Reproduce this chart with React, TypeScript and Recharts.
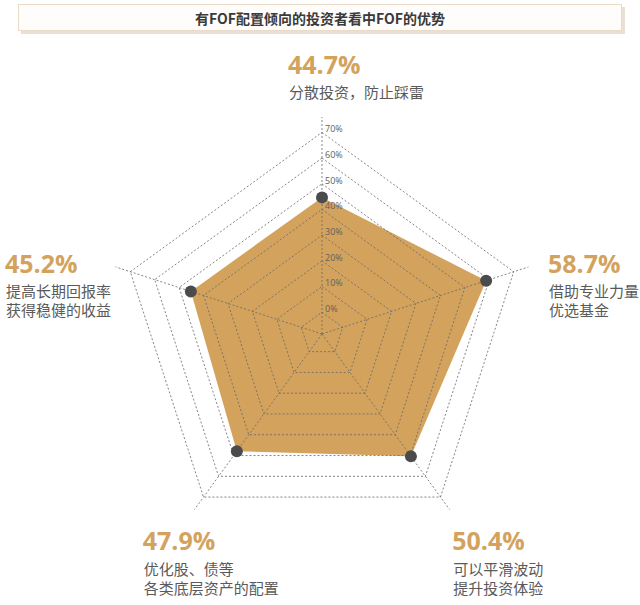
import React from 'react';
import { RadarChart, Radar, PolarGrid, PolarAngleAxis, PolarRadiusAxis } from 'recharts';

const title = '有FOF配置倾向的投资者看中FOF的优势';
const categories = ['分散投资', '借助专业力量', '可以平滑波动', '优化股、债等', '提高长期回报率'];
const values = [44.7, 58.7, 50.4, 47.9, 45.2];
const pctLabels = ['44.7%', '58.7%', '50.4%', '47.9%', '45.2%'];
const descLine1 = ['分散投资，防止踩雷', '借助专业力量', '可以平滑波动', '优化股、债等', '提高长期回报率'];
const descLine2 = ['', '优选基金', '提升投资体验', '各类底层资产的配置', '获得稳健的收益'];
const radiusTicks = [0, 10, 20, 30, 40, 50, 60, 70];
const radiusTickLabels = ['0%', '10%', '20%', '30%', '40%', '50%', '60%', '70%'];
const radiusDomain = [-8.5, 75.8];

const data = categories.map((name, i) => ({ name, value: values[i] }));

const W = 640;
const H = 605;
const CX = 322;
const CY = 334;
const OUTER = 217;

const GOLD = '#D3A35E';
const FONT = "'Open Sans', 'Noto Sans CJK SC', sans-serif";
const CJK = "'Noto Sans CJK SC', 'Open Sans', sans-serif";

// label layout offsets relative to library tick point
const labelOffsets = [
  { dx: -34, dy: -35, lineDy: [-11, 8] },
  { dx: 12, dy: 9, lineDy: [33, 52] },
  { dx: -2, dy: 34, lineDy: [59, 78] },
  { dx: -47, dy: 34, lineDy: [59, 78] },
  { dx: -103, dy: 9, lineDy: [33, 52] },
];

const AngleTick = (props: any) => {
  const { x, y, payload } = props;
  const idx = payload?.index ?? props.index ?? 0;
  const o = labelOffsets[idx];
  return (
    <g>
      <text x={x + o.dx} y={y + o.dy} fill={GOLD} fontFamily={FONT} fontWeight={700} fontSize={25} textAnchor="start">
        {pctLabels[idx]}
      </text>
      <text x={x + o.dx + 1} y={y + o.lineDy[0]} fill="#5a5a5a" fontFamily={CJK} fontSize={15} textAnchor="start">
        {descLine1[idx]}
      </text>
      {descLine2[idx] ? (
        <text x={x + o.dx + 1} y={y + o.lineDy[1]} fill="#5a5a5a" fontFamily={CJK} fontSize={15} textAnchor="start">
          {descLine2[idx]}
        </text>
      ) : null}
    </g>
  );
};

const RadiusTick = (props: any) => {
  const { x, y, payload, index } = props;
  const i = radiusTicks.indexOf(payload?.value);
  return (
    <text x={x + 3} y={y} fill="#606060" fontFamily={FONT} fontSize={9} textAnchor="start">
      {radiusTickLabels[i >= 0 ? i : index]}
    </text>
  );
};

export default function App() {
  return (
    <div style={{ position: 'absolute', left: 0, top: 0, width: W, height: H, background: '#ffffff', overflow: 'hidden' }}>
      <div
        style={{
          position: 'absolute',
          left: 18,
          top: 4,
          width: 602,
          height: 25,
          border: '1.5px solid #eadbc8',
          background: '#fffdfb',
          boxShadow: '3px 3px 0 #eadfd2',
          display: 'flex',
          alignItems: 'center',
          justifyContent: 'center',
          fontFamily: CJK,
          fontWeight: 700,
          fontSize: 14,
          color: '#3a3a3a',
        }}
      >
        {title}
      </div>
      <div style={{ position: 'absolute', left: 0, top: 0 }}>
        <RadarChart width={W} height={H} data={data} cx={CX} cy={CY} outerRadius={OUTER} innerRadius={0}>
          <PolarAngleAxis dataKey="name" tick={false} axisLine={false} tickLine={false} />
          <PolarRadiusAxis domain={radiusDomain} ticks={radiusTicks} allowDataOverflow tick={false} axisLine={false} tickLine={false} angle={90} />
          <Radar dataKey="value" fill={GOLD} fillOpacity={1} stroke="none" dot={false} isAnimationActive={false} />
        </RadarChart>
      </div>
      <div style={{ position: 'absolute', left: 0, top: 0 }}>
        <RadarChart width={W} height={H} data={data} cx={CX} cy={CY} outerRadius={OUTER} innerRadius={0}>
          <PolarGrid gridType="polygon" stroke="#666666" strokeOpacity={0.8} strokeDasharray="2 2" />
          <PolarAngleAxis dataKey="name" tick={<AngleTick />} axisLine={false} tickLine={false} />
          <PolarRadiusAxis
            domain={radiusDomain}
            ticks={radiusTicks}
            allowDataOverflow
            angle={90}
            axisLine={false}
            tickLine={false}
            tick={<RadiusTick />}
          />
          <Radar
            dataKey="value"
            fill="none"
            fillOpacity={0}
            stroke="none"
            dot={{ r: 6, fill: '#4b4b4b', fillOpacity: 1, stroke: 'none' }}
            isAnimationActive={false}
          />
        </RadarChart>
      </div>
    </div>
  );
}
